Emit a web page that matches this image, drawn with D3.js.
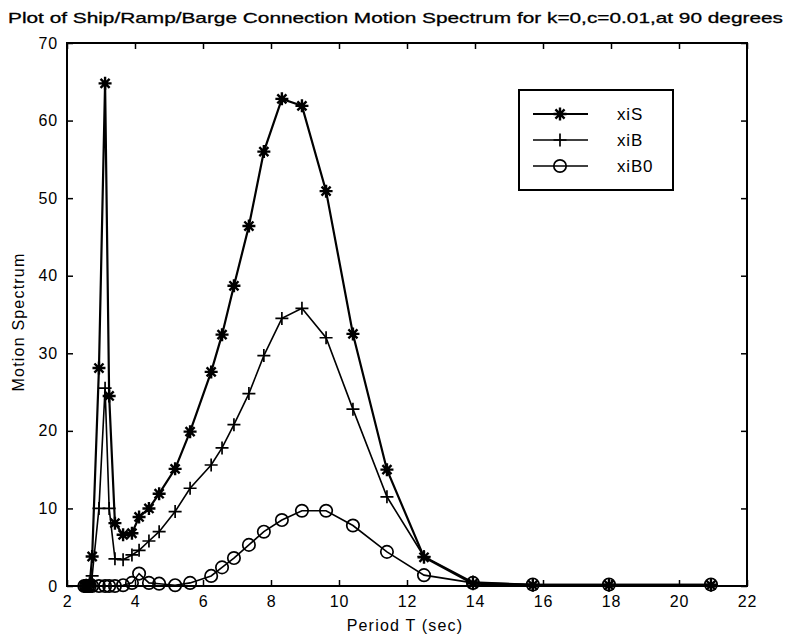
<!DOCTYPE html>
<html><head><meta charset="utf-8">
<script src="https://cdn.jsdelivr.net/npm/d3@7/dist/d3.min.js"></script>
<style>body{margin:0;background:#fff}text{font-family:"Liberation Sans",Arial,sans-serif;fill:#000}</style>
</head><body><svg id="c" width="787" height="640"></svg>
<script>
const title = "Plot of Ship/Ramp/Barge Connection Motion Spectrum for k=0,c=0.01,at 90 degrees";
const xLabel = "Period T (sec)";
const yLabel = "Motion Spectrum";
const xTicks = [2,4,6,8,10,12,14,16,18,20,22];
const yTicks = [0,10,20,30,40,50,60,70];
const periods = [2.51,2.56,2.62,2.67,2.74,2.94,3.12,3.24,3.41,3.65,3.91,4.12,4.41,4.71,5.18,5.62,6.24,6.56,6.91,7.35,7.79,8.32,8.91,9.62,10.41,11.41,12.5,13.94,15.7,17.94,20.94];
const xiS  = [0,0,0,0.3,3.8,28.1,64.8,24.5,8.1,6.6,6.8,8.9,10.0,11.9,15.1,19.9,27.6,32.4,38.7,46.4,56.0,62.8,61.9,50.9,32.5,15.0,3.7,0.3,0.1,0.1,0.1];
const xiB  = [0,0,0,0.2,1.3,10,25.5,10,3.5,3.4,4.0,4.6,5.8,7.0,9.6,12.6,15.6,17.8,20.8,24.8,29.7,34.5,35.8,32.0,22.8,11.5,3.8,0.5,0.2,0.2,0.2];
const xiB0 = [0,0,0,0,0,0,0,0,0,0.1,0.4,1.6,0.4,0.3,0.1,0.4,1.3,2.4,3.6,5.3,7.0,8.5,9.7,9.7,7.8,4.4,1.4,0.4,0.2,0.2,0.2];
const seriesNames = ["xiS","xiB","xiB0"];

const svg = d3.select("#c");
const L=67,R=747,T=43,B=586;
const x = d3.scaleLinear().domain([2,22]).range([L,R]);
const y = d3.scaleLinear().domain([0,70]).range([B,T]);

svg.append("rect").attr("x",L).attr("y",T).attr("width",R-L).attr("height",B-T)
  .attr("fill","none").attr("stroke","#000").attr("stroke-width",2);

const gx = svg.append("g").attr("transform",`translate(0,${B})`)
  .call(d3.axisBottom(x).tickValues(xTicks).tickSize(-6).tickPadding(10).tickFormat(d3.format("d")));
const gxt = svg.append("g").attr("transform",`translate(0,${T})`)
  .call(d3.axisTop(x).tickValues(xTicks).tickSize(-6).tickFormat(""));
const gy = svg.append("g").attr("transform",`translate(${L},0)`)
  .call(d3.axisLeft(y).tickValues(yTicks).tickSize(-6).tickPadding(9).tickFormat(d3.format("d")));
const gyr = svg.append("g").attr("transform",`translate(${R},0)`)
  .call(d3.axisRight(y).tickValues(yTicks).tickSize(-6).tickFormat(""));
[gx,gxt,gy,gyr].forEach(g=>{
  g.select(".domain").remove();
  g.selectAll(".tick line").attr("stroke","#000").attr("stroke-width",1.5);
  g.selectAll("text").attr("font-size","16px").attr("letter-spacing","0.8px")
   .attr("font-family","Liberation Sans, Arial, sans-serif").attr("fill","#000");
});

svg.append("text").attr("x",8).attr("y",23).attr("font-size","15px")
  .attr("stroke","#000").attr("stroke-width",0.3)
  .attr("textLength",775).attr("lengthAdjust","spacingAndGlyphs").text(title);
svg.append("text").attr("x",405).attr("y",631).attr("text-anchor","middle")
  .attr("font-size","16px").attr("letter-spacing","1.2px").text(xLabel);
svg.append("text").attr("transform",`translate(24,322) rotate(-90)`).attr("text-anchor","middle")
  .attr("font-size","16px").attr("letter-spacing","1.2px").text(yLabel);

const line = d3.line().x(d=>x(d[0])).y(d=>y(d[1]));
const data = [xiS,xiB,xiB0].map(v=>periods.map((p,i)=>[p,v[i]]));

function star(g,cx,cy,s){
  const p = `M${cx-s},${cy}L${cx+s},${cy}M${cx},${cy-s}L${cx},${cy+s}M${cx-s*0.7},${cy-s*0.7}L${cx+s*0.7},${cy+s*0.7}M${cx-s*0.7},${cy+s*0.7}L${cx+s*0.7},${cy-s*0.7}`;
  g.append("path").attr("d",p).attr("stroke","#000").attr("stroke-width",2.4).attr("fill","none");
}
function plus(g,cx,cy,s){
  g.append("path").attr("d",`M${cx-s},${cy}L${cx+s},${cy}M${cx},${cy-s}L${cx},${cy+s}`)
   .attr("stroke","#000").attr("stroke-width",1.7).attr("fill","none");
}
function circ(g,cx,cy,s){
  g.append("circle").attr("cx",cx).attr("cy",cy).attr("r",s).attr("fill","none").attr("stroke","#000").attr("stroke-width",1.7);
}
const markers=[star,plus,circ];
const msize=[6.5,6.5,6.2];
const lw=[2.2,1.6,1.6];

const plot = svg.append("g");
data.forEach((d,k)=>{
  plot.append("path").datum(d).attr("d",line).attr("fill","none").attr("stroke","#000").attr("stroke-width",lw[k]);
  const g = plot.append("g");
  d.forEach(p=>markers[k](g,x(p[0]),y(p[1]),msize[k]));
});

const lg = svg.append("g");
lg.append("rect").attr("x",519).attr("y",90).attr("width",154).attr("height",100)
  .attr("fill","#fff").attr("stroke","#000").attr("stroke-width",2);
seriesNames.forEach((n,i)=>{
  const yy = 114 + i*26;
  lg.append("line").attr("x1",533).attr("x2",588).attr("y1",yy).attr("y2",yy).attr("stroke","#000").attr("stroke-width",lw[i]);
  markers[i](lg,560,yy,msize[i]);
  lg.append("text").attr("x",617).attr("y",yy+6).attr("font-size","17px").attr("letter-spacing","0.8px").text(n);
});
</script></body></html>
